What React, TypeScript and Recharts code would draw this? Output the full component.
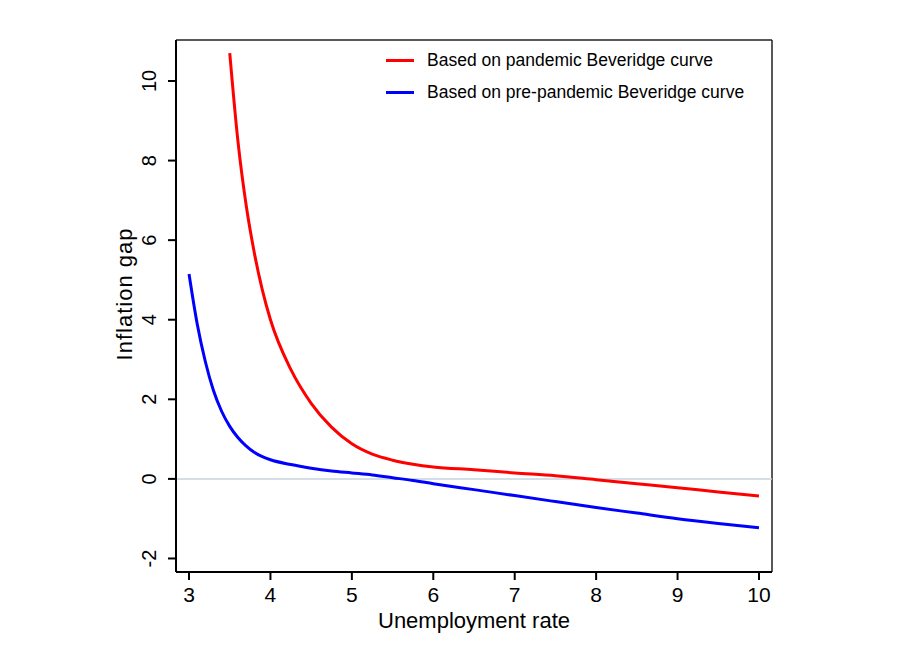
import React from 'react'
import { LineChart, Line, XAxis, YAxis, ReferenceLine, Label } from 'recharts'

// unemployment rate grid (x)
const unemployment = [
  3, 3.1, 3.2, 3.3, 3.4, 3.5, 3.6, 3.7, 3.8, 3.9, 4, 4.25, 4.5, 4.75, 5, 5.25,
  5.5, 5.75, 6, 6.5, 7, 7.5, 8, 8.5, 9, 9.5, 10,
]

// inflation gap, pandemic Beveridge curve (starts at 3.5)
const pandemicGap = [
  null, null, null, null, null, 10.7, 8.5, 6.9, 5.7, 4.75, 4.0, 2.75, 1.9, 1.3,
  0.88, 0.62, 0.47, 0.37, 0.3, 0.23, 0.15, 0.08, -0.02, -0.12, -0.22, -0.33,
  -0.43,
]

// inflation gap, pre-pandemic Beveridge curve
const prePandemicGap = [
  5.15, 3.9, 2.95, 2.22, 1.7, 1.32, 1.04, 0.83, 0.67, 0.56, 0.48, 0.36, 0.27,
  0.2, 0.15, 0.1, 0.03, -0.04, -0.12, -0.27, -0.42, -0.57, -0.72, -0.86, -1.0,
  -1.12, -1.23,
]

const xTicks = [3, 4, 5, 6, 7, 8, 9, 10]
const yTicks = [-2, 0, 2, 4, 6, 8, 10]

const seriesNames = [
  'Based on pandemic Beveridge curve',
  'Based on pre-pandemic Beveridge curve',
]
const seriesColors = ['#ff0000', '#0000ff']

const X_DOMAIN = [2.84, 10.16]
const Y_DOMAIN = [-2.34, 11.03]

const data = unemployment.map((u, i) => ({
  u,
  pandemic: pandemicGap[i],
  prePandemic: prePandemicGap[i],
}))

const FONT = '"Liberation Sans", Arial, sans-serif'

const YTick = (props: any) => {
  const { x, y, payload } = props
  const bx = x - 10
  return (
    <text
      x={bx}
      y={y}
      transform={`rotate(-90 ${bx} ${y})`}
      textAnchor="middle"
      fontSize={20}
      fontFamily={FONT}
      fill="#000"
    >
      {payload.value}
    </text>
  )
}

const XTitle = (props: any) => {
  const { x, y, width } = props.viewBox
  return (
    <text
      x={x + width / 2}
      y={y + 56}
      textAnchor="middle"
      fontSize={22}
      fontFamily={FONT}
      fill="#000"
    >
      Unemployment rate
    </text>
  )
}

const YTitle = (props: any) => {
  const { y, height } = props.viewBox
  const lx = 132
  const ly = y + height / 2 - 12
  return (
    <text
      x={lx}
      y={ly}
      transform={`rotate(-90 ${lx} ${ly})`}
      textAnchor="middle"
      fontSize={22}
      letterSpacing={1}
      fontFamily={FONT}
      fill="#000"
    >
      Inflation gap
    </text>
  )
}

const LegendBox = () => (
  <div
    style={{
      position: 'absolute',
      left: 386,
      top: 44,
      fontFamily: FONT,
      fontSize: 17.5,
      color: '#000',
    }}
  >
    {seriesNames.map((name, i) => (
      <div key={name} style={{ display: 'flex', alignItems: 'center', height: 32 }}>
        <span
          style={{
            display: 'inline-block',
            width: 28,
            height: 3,
            background: seriesColors[i],
            marginRight: 13,
          }}
        />
        {name}
      </div>
    ))}
  </div>
)

export default function App() {
  return (
    <div
      style={{
        position: 'absolute',
        left: 0,
        top: 0,
        width: 900,
        height: 652,
        background: '#fff',
      }}
    >
      <LineChart
        width={900}
        height={652}
        data={data}
        margin={{ top: 40, right: 128, bottom: 20, left: 116 }}
      >
        <XAxis
          dataKey="u"
          type="number"
          domain={X_DOMAIN}
          ticks={xTicks}
          allowDataOverflow
          height={60}
          axisLine={{ stroke: '#000', strokeWidth: 2 }}
          tickLine={{ stroke: '#000', strokeWidth: 2 }}
          tickSize={8}
          tick={{ fill: '#000', fontSize: 21, fontFamily: FONT, dy: 5 }}
        >
          <Label content={<XTitle />} />
        </XAxis>
        <YAxis
          type="number"
          domain={Y_DOMAIN}
          ticks={yTicks}
          allowDataOverflow
          width={60}
          axisLine={{ stroke: '#000', strokeWidth: 2 }}
          tickLine={{ stroke: '#000', strokeWidth: 2 }}
          tickSize={8}
          tick={<YTick />}
        >
          <Label content={<YTitle />} />
        </YAxis>
        <ReferenceLine y={Y_DOMAIN[1]} stroke="#222" strokeWidth={1.5} />
        <ReferenceLine x={X_DOMAIN[1]} stroke="#222" strokeWidth={1.5} />
        <ReferenceLine y={0} stroke="#c6d3df" strokeWidth={1.5} />
        <Line
          dataKey="pandemic"
          name={seriesNames[0]}
          type="monotone"
          stroke={seriesColors[0]}
          strokeWidth={3}
          dot={false}
          isAnimationActive={false}
        />
        <Line
          dataKey="prePandemic"
          name={seriesNames[1]}
          type="monotone"
          stroke={seriesColors[1]}
          strokeWidth={3}
          dot={false}
          isAnimationActive={false}
        />
      </LineChart>
      <LegendBox />
    </div>
  )
}
